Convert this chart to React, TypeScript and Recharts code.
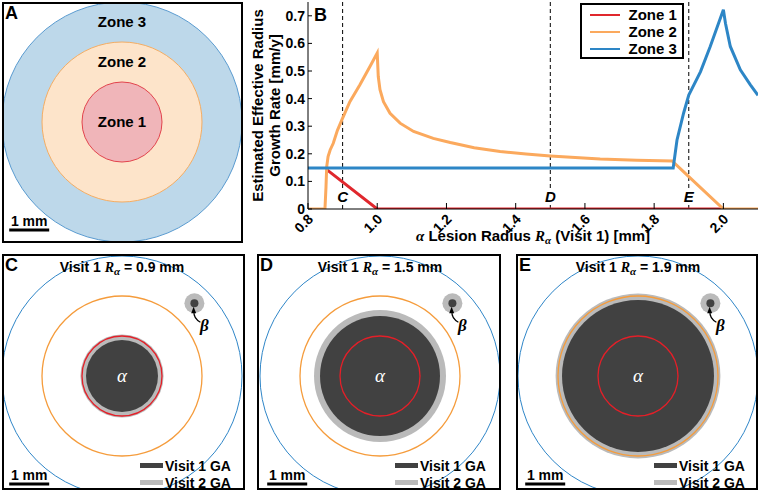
import React from 'react';
import {
  Legend,
  Line,
  LineChart,
  ReferenceLine,
  Scatter,
  ScatterChart,
  XAxis,
  YAxis,
} from 'recharts';

// panel B: estimated effective radius growth rate [mm/y] vs alpha lesion radius [mm]
const zone1Radius = [0.856, 1.0, 2.0];
const zone1Rate = [0.141, 0, 0];

const zone2Radius = [
  0.8, 0.849, 0.852, 0.854, 0.858, 0.864, 0.873, 0.885, 0.9, 0.921, 0.95, 0.979, 1.0,
  1.003, 1.008, 1.018, 1.037, 1.066, 1.105, 1.162, 1.211, 1.28, 1.355, 1.43, 1.5, 1.644,
  1.75, 1.852, 1.9, 2.0, 2.1,
];
const zone2Rate = [
  0, 0, 0.08, 0.153, 0.19, 0.214, 0.238, 0.285, 0.329, 0.389, 0.45, 0.516, 0.565,
  0.48, 0.432, 0.389, 0.347, 0.311, 0.281, 0.256, 0.241, 0.222, 0.208, 0.199, 0.192, 0.181,
  0.177, 0.174, 0.117, 0, 0,
];

const zone3Radius = [0.8, 1.855, 1.866, 1.885, 1.9, 1.934, 1.962, 2.0, 2.006, 2.02, 2.049, 2.078, 2.1];
const zone3Rate = [0.149, 0.149, 0.25, 0.347, 0.413, 0.498, 0.589, 0.722, 0.673, 0.589, 0.504, 0.45, 0.412];

const markerRadius = [0.9, 1.5, 1.9];
const markerLetters = ['C', 'D', 'E'];
const xTicks = [0.8, 1.0, 1.2, 1.4, 1.6, 1.8, 2.0];
const yTicks = [0, 0.1, 0.2, 0.3, 0.4, 0.5, 0.6, 0.7];

// panels A, C, D, E: geometry in mm
const zoneNames = ['Zone 1', 'Zone 2', 'Zone 3'];
const zoneRadiusMm = [1, 2, 3];
const visit1RadiusMm = [0.9, 1.5, 1.9];
const visit2RadiusMm = [1.04, 1.65, 2.06];
const betaCentreMm = [1.81, 1.82];
const betaVisit1Mm = 0.1;
const betaVisit2Mm = 0.25;
const scaleBarMm = [-2.82, -1.82];
const scaleBarYMm = -2.7;
const visitLegend = ['Visit 1 GA', 'Visit 2 GA'];

const SANS = '"Liberation Sans", Arial, sans-serif';
const SERIF = '"Liberation Serif", "DejaVu Serif", serif';

const RED = '#e0272d';
const ORANGE = '#fba95d';
const BLUE = '#2d86c6';
const DARK = '#414141';
const GREY = '#bababa';

const PX_PER_MM = 40;
const HALF_SPAN = 3.2;
const FIELD = 2 * HALF_SPAN * PX_PER_MM;
const BORDER = 2;

const toPoints = (xs: number[], ys: number[]) => xs.map((x, i) => ({ x, y: ys[i] }));
const zone1Data = toPoints(zone1Radius, zone1Rate);
const zone2Data = toPoints(zone2Radius, zone2Rate);
const zone3Data = toPoints(zone3Radius, zone3Rate);

const XTick = (props: any) => {
  const { x, y, payload } = props;
  const ax = x + 6;
  const ay = y + 11;
  return (
    <g>
      <line x1={x} y1={y} x2={x} y2={y - 6} stroke="#000" />
      <text x={ax} y={ay} textAnchor="end" transform={`rotate(-45, ${ax}, ${ay})`}
        fontSize={14} fontWeight="bold" fontFamily={SANS} fill="#000">
        {payload.value.toFixed(1)}
      </text>
    </g>
  );
};

const YTick = (props: any) => {
  const { x, y, payload } = props;
  return (
    <g>
      <line x1={x} y1={y} x2={x + 4} y2={y} stroke="#000" />
      <text x={x - 3} y={y + 5} textAnchor="end" fontSize={14} fontWeight="bold" fontFamily={SANS} fill="#000">
        {payload.value === 0 ? '0' : payload.value.toFixed(1)}
      </text>
    </g>
  );
};

const XTitle = (props: any) => {
  const vb = props.viewBox;
  return (
    <text x={vb.x + vb.width / 2} y={241} textAnchor="middle" fontSize={15} fontWeight="bold" fontFamily={SANS} fill="#000">
      <tspan fontFamily={SERIF} fontStyle="italic">α</tspan>
      <tspan> Lesion Radius </tspan>
      <tspan fontFamily={SERIF} fontStyle="italic">R</tspan>
      <tspan dy={3} fontSize={11} fontFamily={SERIF} fontStyle="italic">α</tspan>
      <tspan dy={-3}> (Visit 1) [mm]</tspan>
    </text>
  );
};

const YTitle = (props: any) => {
  const vb = props.viewBox;
  const cy = vb.y + vb.height / 2;
  return (
    <g fontSize={15} fontWeight="bold" fontFamily={SANS} fill="#000">
      <text x={13} y={cy} textAnchor="middle" transform={`rotate(-90, 13, ${cy})`}>Estimated Effective Radius</text>
      <text x={30} y={cy} textAnchor="middle" transform={`rotate(-90, 30, ${cy})`}>Growth Rate [mm/y]</text>
    </g>
  );
};

const markerLabel = (letter: string) => (props: any) => {
  const vb = props.viewBox;
  const bottom = vb.y + vb.height;
  return (
    <g>
      <rect x={vb.x - 6} y={bottom - 21} width={12} height={15} fill="#fff" />
      <text x={vb.x} y={bottom - 7} textAnchor="middle" fontSize={15} fontStyle="italic" fontWeight="bold" fontFamily={SANS} fill="#000">
        {letter}
      </text>
    </g>
  );
};

const renderLegend = (props: any) => (
  <div style={{ border: '2.5px solid #000', background: '#fff', boxSizing: 'border-box', width: 104, height: 56, paddingTop: 1 }}>
    {(props.payload || []).map((p: any) => (
      <div key={p.value} style={{ display: 'flex', alignItems: 'center', height: 17 }}>
        <span style={{ display: 'inline-block', width: 30, height: 2, background: p.color, marginLeft: 7.5, marginRight: 9 }} />
        <span style={{ fontWeight: 'bold', fontSize: 15, fontFamily: SANS, color: '#000' }}>{p.value}</span>
      </div>
    ))}
  </div>
);

function GrowthChart() {
  return (
    <LineChart width={510} height={245} margin={{ top: 2, right: 2, bottom: 0, left: 0 }}>
      <XAxis type="number" dataKey="x" domain={[0.8, 2.1]} ticks={xTicks} interval={0} allowDataOverflow
        height={36} tickSize={0} tickMargin={0} tickLine={false} tick={<XTick />}
        axisLine={{ stroke: '#000' }} label={(p: any) => <XTitle {...p} />} />
      <YAxis type="number" dataKey="y" domain={[0, 0.75]} ticks={yTicks} interval={0} allowDataOverflow
        width={58} tickSize={0} tickMargin={0} tickLine={false} tick={<YTick />}
        axisLine={{ stroke: '#000' }} label={(p: any) => <YTitle {...p} />} />
      {markerRadius.map((r, i) => (
        <ReferenceLine key={r} x={r} stroke="#000" strokeDasharray="4 3" strokeWidth={1} label={markerLabel(markerLetters[i])} />
      ))}
      <Line data={zone1Data} dataKey="y" name="Zone 1" type="linear" stroke={RED} strokeWidth={3} dot={false} isAnimationActive={false} />
      <Line data={zone2Data} dataKey="y" name="Zone 2" type="linear" stroke={ORANGE} strokeWidth={3} dot={false} isAnimationActive={false} />
      <Line data={zone3Data} dataKey="y" name="Zone 3" type="linear" stroke={BLUE} strokeWidth={3} dot={false} isAnimationActive={false} />
      <Legend layout="horizontal" verticalAlign="middle" align="center" content={renderLegend}
        wrapperStyle={{ top: 3, left: 330, width: 104, height: 56 }} />
    </LineChart>
  );
}

const diskShape = (fill: string, stroke: string, strokeWidth: number) => (p: any) => (
  <circle cx={p.cx} cy={p.cy} r={p.payload.r * PX_PER_MM} fill={fill} stroke={stroke} strokeWidth={strokeWidth} />
);

const textShape = (p: any) => (
  <text x={p.cx} y={p.cy + 5} textAnchor="middle" fontSize={15} fontWeight="bold" fontFamily={SANS} fill="#000">
    {p.payload.label}
  </text>
);

const alphaShape = (p: any) => (
  <text x={p.cx} y={p.cy + 6} textAnchor="middle" fontSize={19} fontStyle="italic" fontFamily={SERIF} fill="#fff">α</text>
);

const betaArrowShape = (p: any) => {
  const { cx, cy } = p;
  return (
    <g>
      <path d={`M${cx + 6},${cy + 19} Q${cx - 1},${cy + 15} ${cx - 0.5},${cy + 8}`} fill="none" stroke="#000" strokeWidth={1.2} />
      <path d={`M${cx - 0.8},${cy + 3.5} L${cx - 3.2},${cy + 10} L${cx + 1.8},${cy + 10} Z`} fill="#000" />
      <text x={cx + 10} y={cy + 28} textAnchor="middle" fontSize={17} fontStyle="italic" fontWeight="bold" fontFamily={SERIF} fill="#000">β</text>
    </g>
  );
};

const centre = (r: number) => [{ x: 0, y: 0, r }];

function MapChart({ children }: { children: React.ReactNode }) {
  return (
    <ScatterChart width={FIELD} height={FIELD} margin={{ top: 0, right: 0, bottom: 0, left: 0 }}>
      <XAxis type="number" dataKey="x" domain={[-HALF_SPAN, HALF_SPAN]} hide allowDataOverflow />
      <YAxis type="number" dataKey="y" domain={[-HALF_SPAN, HALF_SPAN]} hide allowDataOverflow />
      {children}
      <ReferenceLine
        segment={[{ x: scaleBarMm[0], y: scaleBarYMm }, { x: scaleBarMm[1], y: scaleBarYMm }]}
        stroke="#000" strokeWidth={3}
        label={{ value: '1 mm', position: 'top', offset: 4, fill: '#000', fontSize: 14, fontWeight: 'bold', fontFamily: SANS }}
      />
    </ScatterChart>
  );
}

interface BoxProps {
  left: number;
  top: number;
  width: number;
  height: number;
  cx: number;
  cy: number;
  letter: string;
  children: React.ReactNode;
  overlay?: React.ReactNode;
}

function MapBox({ left, top, width, height, cx, cy, letter, children, overlay }: BoxProps) {
  return (
    <div style={{ position: 'absolute', left, top, width, height, border: `${BORDER}px solid #000`, boxSizing: 'border-box', overflow: 'hidden', background: '#fff' }}>
      <div style={{ position: 'absolute', left: cx - left - BORDER - FIELD / 2, top: cy - top - BORDER - FIELD / 2 }}>
        <MapChart>{children}</MapChart>
      </div>
      <div style={{ position: 'absolute', left: 1, top: 0, fontSize: 18, lineHeight: '18px', fontWeight: 'bold', fontFamily: SANS }}>{letter}</div>
      {overlay}
    </div>
  );
}

function ZonePanel() {
  const labels = zoneNames.map((label, i) => ({
    x: 0,
    y: i === 0 ? 0 : (zoneRadiusMm[i - 1] + zoneRadiusMm[i]) / 2,
    label,
  }));
  return (
    <MapBox left={2} top={2} width={241} height={241} cx={122} cy={122} letter="A">
      <Scatter data={centre(zoneRadiusMm[2])} shape={diskShape('#bdd8ea', '#5a9bd0', 1)} isAnimationActive={false} />
      <Scatter data={centre(zoneRadiusMm[1])} shape={diskShape('#fde4ca', '#f5ad63', 1)} isAnimationActive={false} />
      <Scatter data={centre(zoneRadiusMm[0])} shape={diskShape('#f0b5b9', '#e2434c', 1)} isAnimationActive={false} />
      <Scatter data={labels} shape={textShape} isAnimationActive={false} />
    </MapBox>
  );
}

const visitBoxes = [
  { left: 2, width: 243, cx: 122 },
  { left: 257, width: 244, cx: 380 },
  { left: 516, width: 242, cx: 638 },
];

function VisitPanel({ index }: { index: number }) {
  const box = visitBoxes[index];
  const beta = [{ x: betaCentreMm[0], y: betaCentreMm[1] }];
  const overlay = (
    <>
      <div style={{ position: 'absolute', left: box.cx - box.left - BORDER - 100, width: 200, top: 4, textAlign: 'center', fontSize: 14, lineHeight: '14px', fontWeight: 'bold', fontFamily: SANS, whiteSpace: 'nowrap' }}>
        Visit 1 <span style={{ fontFamily: SERIF, fontStyle: 'italic' }}>R</span>
        <span style={{ fontFamily: SERIF, fontStyle: 'italic', fontSize: 11, position: 'relative', top: 3 }}>α</span>
        {` = ${visit1RadiusMm[index].toFixed(1)} mm`}
      </div>
      {visitLegend.map((name, k) => (
        <div key={name} style={{ position: 'absolute', left: 136, top: 202.5 + k * 17, display: 'flex', alignItems: 'center', height: 14 }}>
          <span style={{ display: 'inline-block', width: 23, height: 5, background: k === 0 ? DARK : GREY }} />
          <span style={{ marginLeft: 2, fontSize: 14, lineHeight: '14px', fontWeight: 'bold', fontFamily: SANS }}>{name}</span>
        </div>
      ))}
    </>
  );
  return (
    <MapBox left={box.left} top={254} width={box.width} height={236} cx={box.cx} cy={376}
      letter={markerLetters[index]} overlay={overlay}>
      <Scatter data={centre(visit2RadiusMm[index])} shape={diskShape(GREY, 'none', 0)} isAnimationActive={false} />
      <Scatter data={centre(visit1RadiusMm[index])} shape={diskShape(DARK, 'none', 0)} isAnimationActive={false} />
      <Scatter data={centre(zoneRadiusMm[0])} shape={diskShape('none', '#e41f28', 1.3)} isAnimationActive={false} />
      <Scatter data={centre(zoneRadiusMm[1])} shape={diskShape('none', '#f59c3c', 1.3)} isAnimationActive={false} />
      <Scatter data={centre(zoneRadiusMm[2])} shape={diskShape('none', '#2f86c8', 1)} isAnimationActive={false} />
      <Scatter data={[{ ...beta[0], r: betaVisit2Mm }]} shape={diskShape(GREY, 'none', 0)} isAnimationActive={false} />
      <Scatter data={[{ ...beta[0], r: betaVisit1Mm }]} shape={diskShape(DARK, 'none', 0)} isAnimationActive={false} />
      <Scatter data={beta} shape={betaArrowShape} isAnimationActive={false} />
      <Scatter data={[{ x: 0, y: 0 }]} shape={alphaShape} isAnimationActive={false} />
    </MapBox>
  );
}

export default function App() {
  return (
    <div style={{ position: 'absolute', left: 0, top: 0, width: 760, height: 498, background: '#fff', overflow: 'hidden', fontFamily: SANS }}>
      <ZonePanel />
      <div style={{ position: 'absolute', left: 250, top: 0, width: 510, height: 245 }}>
        <GrowthChart />
        <div style={{ position: 'absolute', left: 64, top: 6, fontSize: 18, lineHeight: '18px', fontWeight: 'bold', fontFamily: SANS }}>B</div>
      </div>
      {visit1RadiusMm.map((_, i) => (
        <VisitPanel key={i} index={i} />
      ))}
    </div>
  );
}
